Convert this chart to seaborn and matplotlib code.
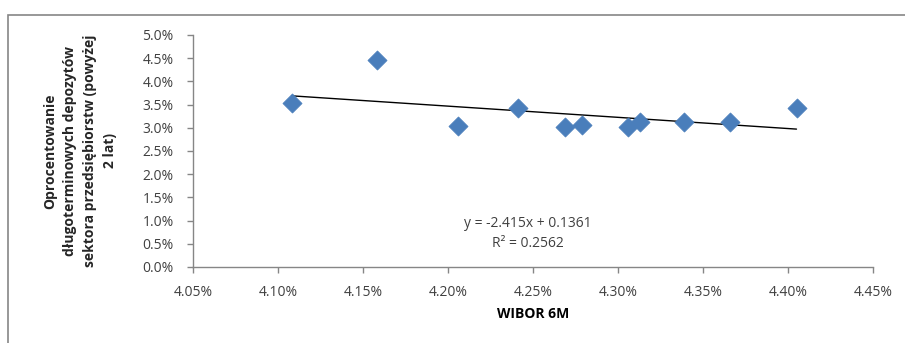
import matplotlib
matplotlib.use("Agg")
import matplotlib.pyplot as plt
from matplotlib.patches import Rectangle
from matplotlib.ticker import PercentFormatter, MultipleLocator
import seaborn as sns
import pandas as pd
import numpy as np

# WIBOR 6M (x) vs. long-term corporate deposit rates (y), in percent
wibor_6m = [4.108, 4.158, 4.206, 4.241, 4.269, 4.279, 4.306, 4.313, 4.339, 4.366, 4.405]
deposit_rate = [3.53, 4.46, 3.04, 3.43, 3.02, 3.06, 3.02, 3.12, 3.12, 3.12, 3.43]

# Linear trend as reported (fractions)
slope = -2.415
intercept = 0.1361
r_squared = 0.2562

x_label = "WIBOR 6M"
y_label = "Oprocentowanie\ndługoterminowych depozytów\nsektora przedsiębiorstw (powyżej\n2 lat)"

df = pd.DataFrame({"x": wibor_6m, "y": deposit_rate})

sns.set_style("white")
plt.rcParams["font.family"] = ["Open Sans", "DejaVu Sans"]

W, H = 905, 343
fig = plt.figure(figsize=(W / 100, H / 100), dpi=100)
ax = fig.add_axes([193 / W, 1 - 267 / H, (873 - 193) / W, (267 - 35) / H])

axis_grey = "#868686"
text_col = "#404040"

sns.scatterplot(data=df, x="x", y="y", ax=ax, marker="D", s=95,
                color="#4A7EBB", edgecolor="#4A7EBB", linewidth=0.5, zorder=3)

# trend line computed from the stated equation
tx = np.array([min(wibor_6m), max(wibor_6m)])
ty = (slope * tx / 100 + intercept) * 100
sns.lineplot(x=tx, y=ty, ax=ax, color="black", linewidth=1.0, zorder=2)

ax.set_xlim(4.05, 4.45)
ax.set_ylim(0, 5.0)
ax.xaxis.set_major_locator(MultipleLocator(0.05))
ax.yaxis.set_major_locator(MultipleLocator(0.5))
ax.xaxis.set_major_formatter(PercentFormatter(decimals=2))
ax.yaxis.set_major_formatter(PercentFormatter(decimals=1))

for side in ("top", "right"):
    ax.spines[side].set_visible(False)
for side in ("left", "bottom"):
    ax.spines[side].set_color(axis_grey)
    ax.spines[side].set_linewidth(1.0)

ax.tick_params(axis="both", direction="out", length=4, width=1, color=axis_grey,
               labelsize=10, labelcolor=text_col)
ax.tick_params(axis="y", pad=10, left=True)
ax.tick_params(axis="x", pad=9, bottom=True)

ax.set_xlabel(x_label, fontsize=10, fontweight="bold", color="black", labelpad=5)
ax.set_ylabel("")
fig.text(80 / W, 1 - 151 / H, y_label, rotation=90, ha="center", va="center",
         multialignment="center", fontsize=10, fontweight="bold", linespacing=1.55)

eq = f"y = {slope}x + {intercept}\nR² = {r_squared}"
ax.text(4.247, 0.73, eq, ha="center", va="center", fontsize=10, color=text_col,
        linespacing=1.45)

# chart area frame
fig.patches.append(Rectangle((8 / W, -0.1), 2, 1 - 15 / H + 0.1, transform=fig.transFigure,
                             fill=False, edgecolor=axis_grey, linewidth=1.2))

fig.savefig("out.png", dpi=100)
